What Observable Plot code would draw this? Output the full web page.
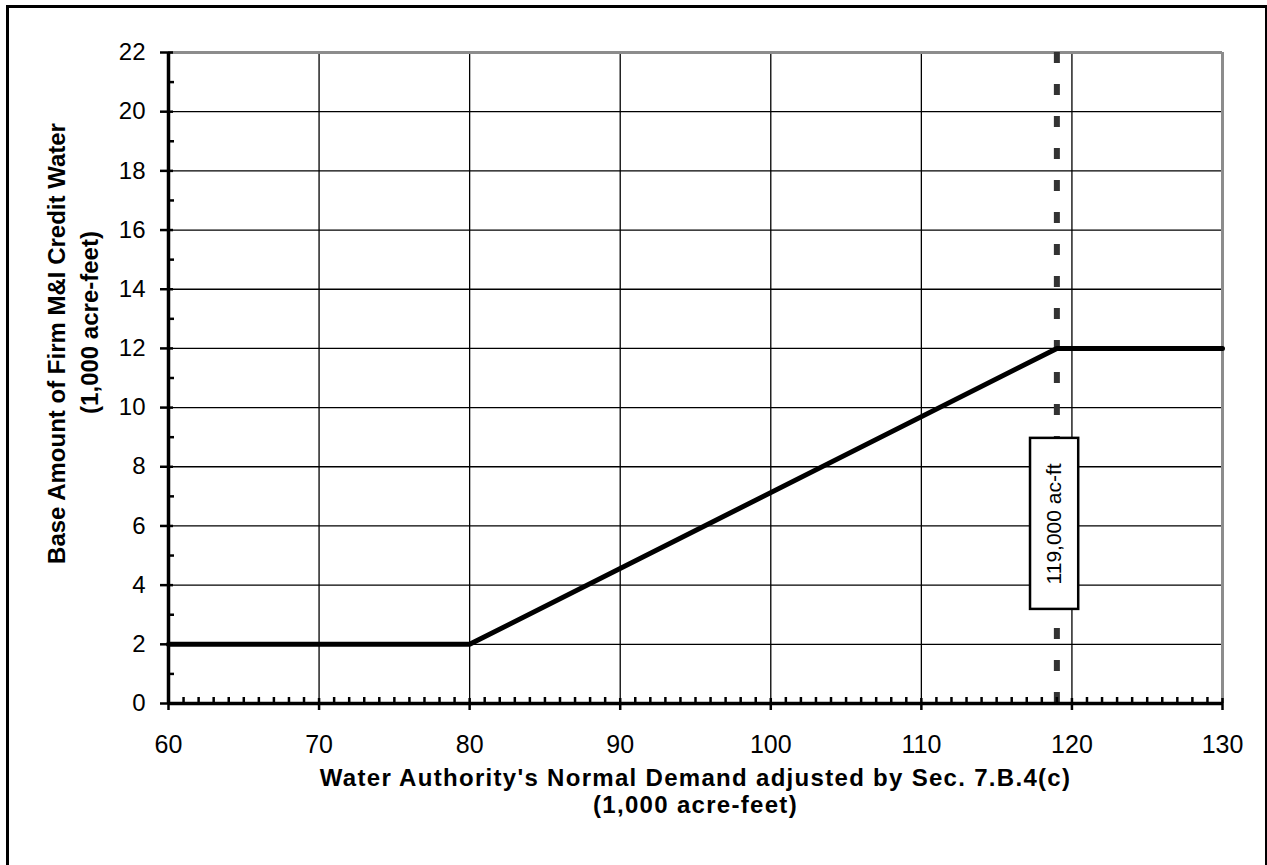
<!DOCTYPE html>
<html>
<head>
<meta charset="utf-8">
<script src="https://cdn.jsdelivr.net/npm/d3@7"></script>
<script src="https://cdn.jsdelivr.net/npm/@observablehq/plot@0.6"></script>
<style>
  html, body { margin: 0; padding: 0; background: #fff; }
  #wrap { position: relative; width: 1267px; height: 865px; overflow: hidden; }
  #border { position: absolute; left: 6px; top: 5px; width: 1262px; height: 875px; border: 3px solid #000; box-sizing: border-box; pointer-events: none; }
</style>
</head>
<body>
<div id="wrap"><div id="border"></div></div>
<script>
// ---- data ----
const demand = [60, 80, 119, 130];          // Water Authority's normal demand (1,000 ac-ft)
const credit = [2, 2, 12, 12];              // Base amount of firm M&I credit water (1,000 ac-ft)
const threshold = [119];                    // 119,000 ac-ft marker
const xTicks = [60, 70, 80, 90, 100, 110, 120, 130];
const yTicks = [0, 2, 4, 6, 8, 10, 12, 14, 16, 18, 20, 22];
const xGrid = [70, 80, 90, 100, 110, 120];
const yGrid = [2, 4, 6, 8, 10, 12, 14, 16, 18, 20];
const xMinor = d3.range(61, 130).filter(v => v % 10 !== 0);
const yMinor = [1, 3, 5, 7, 9, 11, 13, 15, 17, 19, 21];
const annotation = [{label: "119,000 ac-ft", x: 118.85, y: 6.07, x1: 117.25, x2: 120.45, y1: 3.18, y2: 8.96}];
const xTitle = ["Water Authority's Normal Demand adjusted by Sec. 7.B.4(c)", "(1,000 acre-feet)"];
const yTitle = ["Base Amount of Firm M&I Credit Water", "(1,000 acre-feet)"];

const line = demand.map((x, i) => ({x, y: credit[i]}));

const W = 1267, H = 865, mL = 168, mR = 45, mT = 52, mB = 162;
const pw = W - mL - mR, ph = H - mT - mB;
const titleStyle = {fontSize: 24, fontWeight: "bold", fill: "#000", textAnchor: "middle"};

const chart = Plot.plot({
  width: W, height: H,
  marginLeft: mL, marginRight: mR, marginTop: mT, marginBottom: mB,
  style: {fontFamily: "'Liberation Sans', Arial, sans-serif", fontSize: "24px", color: "#000", background: "transparent"},
  x: {domain: [60, 130]},
  y: {domain: [0, 22]},
  marks: [
    // grid
    Plot.ruleY(yGrid, {stroke: "#000", strokeWidth: 1.3}),
    Plot.ruleX(xGrid, {stroke: "#000", strokeWidth: 1.3}),
    // plot-area frame (top and right, gray)
    Plot.ruleY([22], {stroke: "#8c8c8c", strokeWidth: 3}),
    Plot.ruleX([130], {stroke: "#8c8c8c", strokeWidth: 3}),
    // threshold dashed line
    Plot.ruleX(threshold, {stroke: "#333", strokeWidth: 6, strokeDasharray: "11,21"}),
    // data line
    Plot.line(line, {x: "x", y: "y", stroke: "#000", strokeWidth: 5, strokeLinejoin: "miter"}),
    // axis lines
    Plot.ruleX([60], {stroke: "#000", strokeWidth: 3.5}),
    Plot.ruleY([0], {stroke: "#000", strokeWidth: 3.5}),
    // ticks
    Plot.tickY(yMinor, {y: d => d, insetRight: pw - 6, stroke: "#000", strokeWidth: 2.5}),
    Plot.tickY(yTicks, {y: d => d, insetLeft: -8, insetRight: pw - 5, stroke: "#000", strokeWidth: 2.5}),
    Plot.tickX(xMinor, {x: d => d, insetTop: ph - 6, stroke: "#000", strokeWidth: 2.5}),
    Plot.tickX(xTicks, {x: d => d, insetTop: ph - 5, insetBottom: -7, stroke: "#000", strokeWidth: 2.5}),
    // tick labels
    Plot.axisX({ticks: xTicks, tickSize: 0, tickPadding: 32, label: null, fontSize: 25}),
    Plot.axisY({ticks: yTicks, tickSize: 0, tickPadding: 23, label: null, fontSize: 24}),
    // annotation box
    Plot.rect(annotation, {x1: "x1", x2: "x2", y1: "y1", y2: "y2", fill: "#fff", stroke: "#000", strokeWidth: 2.5}),
    Plot.text(annotation, {x: "x", y: "y", text: "label", rotate: -90, fontSize: 21, fill: "#000"}),
    // axis titles
    Plot.text([xTitle[0]], {frameAnchor: "bottom", lineAnchor: "bottom", dy: 82, text: d => d, ...titleStyle}),
    Plot.text([xTitle[1]], {frameAnchor: "bottom", lineAnchor: "bottom", dy: 109, text: d => d, ...titleStyle}),
    Plot.text([yTitle[0]], {frameAnchor: "left", lineAnchor: "middle", dx: -111, dy: -34.5, rotate: -90, text: d => d, ...titleStyle}),
    Plot.text([yTitle[1]], {frameAnchor: "left", lineAnchor: "middle", dx: -78, dy: -55.5, rotate: -90, text: d => d, ...titleStyle})
  ]
});
d3.select(chart).selectAll("text")
  .filter(function () { return this.textContent === xTitle[0] || (this.textContent === xTitle[1] && !this.getAttribute("transform")?.includes("rotate")); })
  .style("letter-spacing", "1.3px");
document.getElementById("wrap").appendChild(chart);
</script>
</body>
</html>
